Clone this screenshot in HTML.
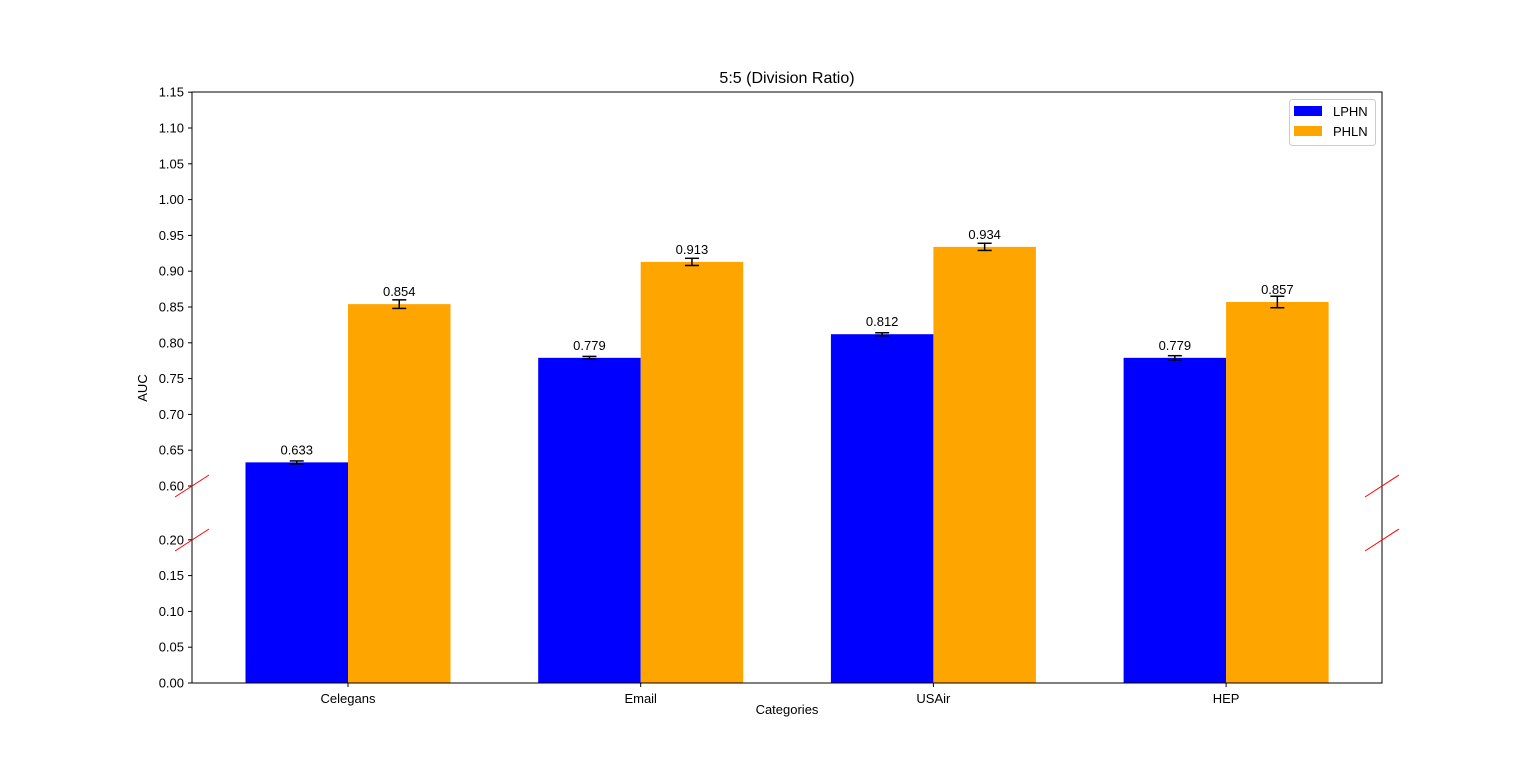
<!DOCTYPE html>
<html><head><meta charset="utf-8"><style>
body{margin:0;background:#fff;}
svg text{font-family:"Liberation Sans","DejaVu Sans",sans-serif;fill:#000;}
</style></head><body>
<svg id="chart" width="1536" height="767" xmlns="http://www.w3.org/2000/svg">
<rect width="1536" height="767" fill="#fff"/>
<text x="787" y="83" font-size="16" text-anchor="middle">5:5 (Division Ratio)</text>
<g id="bars"></g>
<g id="axes"></g>
</svg>
<script>
const categories = ["Celegans","Email","USAir","HEP"];
const lphn = [0.633,0.779,0.812,0.779];
const phln = [0.854,0.913,0.934,0.857];
const lphnErr = [0.002,0.002,0.002,0.003];
const phlnErr = [0.006,0.005,0.005,0.008];
const upperTicks = [0.60,0.65,0.70,0.75,0.80,0.85,0.90,0.95,1.00,1.05,1.10,1.15];
const lowerTicks = [0.00,0.05,0.10,0.15,0.20];
const seriesNames = ["LPHN","PHLN"];
const colors = ["#0000ff","#ffa500"];

const NS="http://www.w3.org/2000/svg";
const L=192,R=1382,T=92,B=683,K=716;
function y(v){ return v>=0.6 ? 486-(v-0.6)*K : (v<=0.2 ? B-v*K : 540-(v-0.2)*(54/0.4)); }
function xc(i){ return 348+i*292.7; }
const bw=102.5;
function mk(tag,attrs,parent){const e=document.createElementNS(NS,tag);for(const k in attrs)e.setAttribute(k,attrs[k]);parent.appendChild(e);return e;}
const gb=document.getElementById('bars'), ga=document.getElementById('axes');
[lphn,phln].forEach((s,si)=>{
  const errs=si?phlnErr:lphnErr;
  s.forEach((v,i)=>{
    const x0=xc(i)+(si?0:-bw);
    const r=mk('rect',{x:x0,y:y(v),width:bw,height:B-y(v),fill:colors[si]},gb);
    
    
    const cx=x0+bw/2, e=errs[i];
    const eg=mk('g',{stroke:'#000','stroke-width':1.5},gb);
    
    
    mk('line',{x1:cx,x2:cx,y1:y(v+e),y2:y(v-e)},eg);
    mk('line',{x1:cx-7,x2:cx+7,y1:y(v+e),y2:y(v+e)},eg);
    mk('line',{x1:cx-7,x2:cx+7,y1:y(v-e),y2:y(v-e)},eg);
    const t=mk('text',{x:cx,y:y(v)-8,'font-size':13,'text-anchor':'middle'},gb);
    t.textContent=v.toFixed(3);
    
    
  });
});
const fr=mk('rect',{x:L,y:T,width:R-L,height:B-T,fill:'none',stroke:'#000','stroke-width':1},ga);


upperTicks.concat(lowerTicks).forEach(v=>{
  const yy=y(v);
  mk('line',{x1:L-4,x2:L,y1:yy,y2:yy,stroke:'#000'},ga);
  const t=mk('text',{x:L-8,y:yy+4.5,'font-size':13,'text-anchor':'end'},ga);
  t.textContent=v.toFixed(2);
  
  
});
categories.forEach((c,i)=>{
  mk('line',{x1:xc(i),x2:xc(i),y1:B,y2:B+4,stroke:'#000'},ga);
  const t=mk('text',{x:xc(i),y:B+20,'font-size':13,'text-anchor':'middle'},ga);
  t.textContent=c;
  
  
});
[486,540].forEach(yy=>{[L,R].forEach(xx=>{
  const l=mk('line',{x1:xx-17,y1:yy+11,x2:xx+17,y2:yy-11,stroke:'#ff0000','stroke-width':1},ga);
  
  
});});
let t=mk('text',{x:787,y:714,'font-size':13,'text-anchor':'middle'},ga);t.textContent='Categories';


t=mk('text',{x:147,y:388,'font-size':13,'text-anchor':'middle',transform:'rotate(-90 147 388)'},ga);t.textContent='AUC';


const lg=mk('g',{},ga);


mk('rect',{x:1289.5,y:99.5,width:86,height:46,rx:3,fill:'#fff',stroke:'#ccc'},lg);
seriesNames.forEach((n,i)=>{
  mk('rect',{x:1294,y:106+i*20,width:28,height:10,fill:colors[i]},lg);
  const tt=mk('text',{x:1333,y:116+i*20,'font-size':13},lg);tt.textContent=n;
  
  
});
</script>
</body></html>
